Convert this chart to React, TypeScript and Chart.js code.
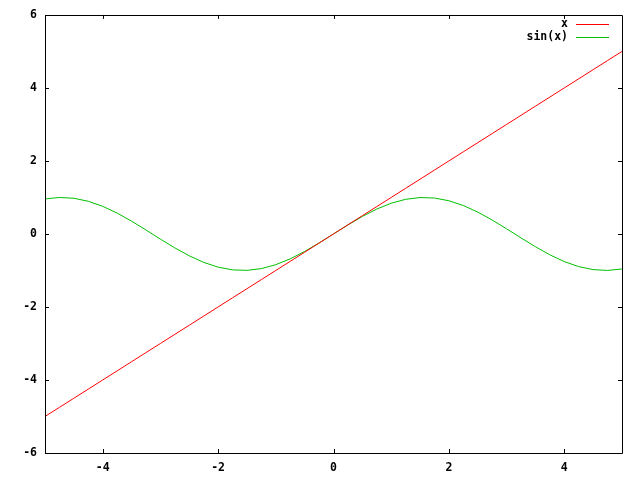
import React, { useEffect, useRef } from "react";
import { Chart, registerables } from "chart.js";

Chart.register(...registerables);

const xValues = [
  -5, -4.75, -4.5, -4.25, -4, -3.75, -3.5, -3.25, -3, -2.75, -2.5, -2.25, -2, -1.75, -1.5, -1.25, -1, -0.75, -0.5, -0.25,
  0, 0.25, 0.5, 0.75, 1, 1.25, 1.5, 1.75, 2, 2.25, 2.5, 2.75, 3, 3.25, 3.5, 3.75, 4, 4.25, 4.5, 4.75, 5,
];
const lineValues = [
  -5, -4.75, -4.5, -4.25, -4, -3.75, -3.5, -3.25, -3, -2.75, -2.5, -2.25, -2, -1.75, -1.5, -1.25, -1, -0.75, -0.5, -0.25,
  0, 0.25, 0.5, 0.75, 1, 1.25, 1.5, 1.75, 2, 2.25, 2.5, 2.75, 3, 3.25, 3.5, 3.75, 4, 4.25, 4.5, 4.75, 5,
];
const sinValues = [
  0.9589, 0.9993, 0.9775, 0.895, 0.7568, 0.5716, 0.3508, 0.1082, -0.1411, -0.3817, -0.5985, -0.7781, -0.9093, -0.984,
  -0.9975, -0.949, -0.8415, -0.6816, -0.4794, -0.2474, 0, 0.2474, 0.4794, 0.6816, 0.8415, 0.949, 0.9975, 0.984, 0.9093,
  0.7781, 0.5985, 0.3817, 0.1411, -0.1082, -0.3508, -0.5716, -0.7568, -0.895, -0.9775, -0.9993, -0.9589,
];
const seriesNames = ["x", "sin(x)"];
const seriesColors = ["#ff0000", "#00c000"];
const xTicks = [-4, -2, 0, 2, 4];
const yTicks = [-6, -4, -2, 0, 2, 4, 6];

const FONT = { family: "'DejaVu Sans Mono', monospace", size: 11.5, weight: "bold" as const };

const framePlugin = {
  id: "frame",
  afterDraw(chart: any) {
    const { ctx, chartArea } = chart;
    const { left, right, top, bottom } = chartArea;
    const xs = chart.scales.x;
    const ys = chart.scales.y;
    ctx.save();
    ctx.strokeStyle = "#000";
    ctx.lineWidth = 1;
    ctx.beginPath();
    ctx.rect(Math.round(left) + 0.5, Math.round(top) + 0.5, Math.round(right - left), Math.round(bottom - top));
    const tl = 4;
    xTicks.forEach((v) => {
      const px = Math.round(xs.getPixelForValue(v)) + 0.5;
      ctx.moveTo(px, bottom);
      ctx.lineTo(px, bottom - tl);
      ctx.moveTo(px, top);
      ctx.lineTo(px, top + tl);
    });
    yTicks.forEach((v) => {
      const py = Math.round(ys.getPixelForValue(v)) + 0.5;
      ctx.moveTo(left, py);
      ctx.lineTo(left + tl, py);
      ctx.moveTo(right, py);
      ctx.lineTo(right - tl, py);
    });
    ctx.stroke();

    // legend
    ctx.font = `${FONT.weight} ${FONT.size}px ${FONT.family}`;
    ctx.textAlign = "right";
    ctx.textBaseline = "middle";
    seriesNames.forEach((name, i) => {
      const y = top + 9 + i * 13;
      ctx.fillStyle = "#000";
      ctx.fillText(name, right - 54, y);
      ctx.strokeStyle = seriesColors[i];
      ctx.beginPath();
      ctx.moveTo(right - 46, Math.round(y) + 0.5);
      ctx.lineTo(right - 13, Math.round(y) + 0.5);
      ctx.stroke();
    });
    ctx.restore();
  },
};

export default function App() {
  const ref = useRef<HTMLCanvasElement>(null);
  useEffect(() => {
    document.body.style.margin = "0";
    const canvas = ref.current!;
    const chart = new Chart(canvas, {
      type: "line",
      data: {
        datasets: [
          {
            label: seriesNames[0],
            data: xValues.map((x, i) => ({ x, y: lineValues[i] })),
            borderColor: seriesColors[0],
            borderWidth: 1,
            pointRadius: 0,
            tension: 0,
          },
          {
            label: seriesNames[1],
            data: xValues.map((x, i) => ({ x, y: sinValues[i] })),
            borderColor: seriesColors[1],
            borderWidth: 1,
            pointRadius: 0,
            tension: 0,
          },
        ],
      },
      options: {
        responsive: false,
        animation: false,
        layout: { padding: { left: 0, right: 18, top: 14, bottom: 0 } },
        plugins: { legend: { display: false }, tooltip: { enabled: false } },
        scales: {
          x: {
            type: "linear",
            min: -5,
            max: 5,
            grid: { display: false, drawTicks: false },
            border: { display: false },
            afterBuildTicks: (s: any) => {
              s.ticks = xTicks.map((v) => ({ value: v }));
            },
            afterFit: (s: any) => {
              s.height = 27;
            },
            ticks: { color: "#000", font: FONT, padding: 8, maxRotation: 0, autoSkip: false },
          },
          y: {
            type: "linear",
            min: -6,
            max: 6,
            grid: { display: false, drawTicks: false },
            border: { display: false },
            afterBuildTicks: (s: any) => {
              s.ticks = yTicks.map((v) => ({ value: v }));
            },
            afterFit: (s: any) => {
              s.width = 45;
            },
            ticks: { color: "#000", font: FONT, padding: 8, autoSkip: false },
          },
        },
      },
      plugins: [framePlugin],
    });
    return () => chart.destroy();
  }, []);
  return (
    <div style={{ position: "absolute", left: 0, top: 0, width: 640, height: 480, background: "#fff" }}>
      <canvas ref={ref} width={640} height={480} />
    </div>
  );
}
